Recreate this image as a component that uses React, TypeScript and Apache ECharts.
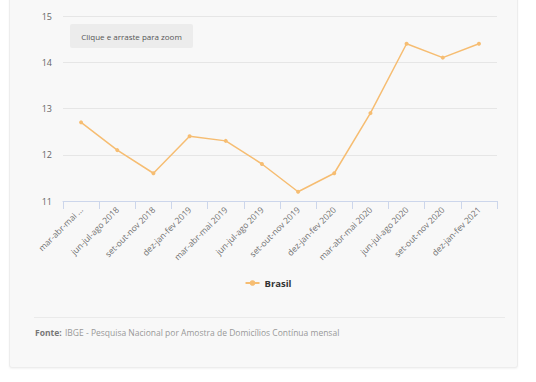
import React, { useEffect, useRef } from "react";
import * as echarts from "echarts";

const categories = [
  "mar-abr-mai 2018",
  "jun-jul-ago 2018",
  "set-out-nov 2018",
  "dez-jan-fev 2019",
  "mar-abr-mai 2019",
  "jun-jul-ago 2019",
  "set-out-nov 2019",
  "dez-jan-fev 2020",
  "mar-abr-mai 2020",
  "jun-jul-ago 2020",
  "set-out-nov 2020",
  "dez-jan-fev 2021",
];
const tickLabels = [
  "mar-abr-mai ...",
  "jun-jul-ago 2018",
  "set-out-nov 2018",
  "dez-jan-fev 2019",
  "mar-abr-mai 2019",
  "jun-jul-ago 2019",
  "set-out-nov 2019",
  "dez-jan-fev 2020",
  "mar-abr-mai 2020",
  "jun-jul-ago 2020",
  "set-out-nov 2020",
  "dez-jan-fev 2021",
];
const brasil = [12.7, 12.1, 11.6, 12.4, 12.3, 11.8, 11.2, 11.6, 12.9, 14.4, 14.1, 14.4];
const seriesName = "Brasil";
const zoomText = "Clique e arraste para zoom";
const sourceLabel = "Fonte:";
const sourceText = "IBGE - Pesquisa Nacional por Amostra de Domicílios Contínua mensal";

const FONT = "'Open Sans', 'Noto Sans', sans-serif";

export default function App() {
  const ref = useRef<HTMLDivElement>(null);
  useEffect(() => {
    if (!ref.current) return;
    const chart = echarts.init(ref.current, undefined, { renderer: "svg" });
    chart.setOption({
      animation: false,
      backgroundColor: "transparent",
      textStyle: { fontFamily: FONT },
      grid: { left: 63, right: 39, top: 16, bottom: 181, containLabel: false },
      xAxis: {
        type: "category",
        data: categories,
        boundaryGap: true,
        axisLine: { lineStyle: { color: "#ccd6eb", width: 1 } },
        axisTick: { show: true, length: 8, lineStyle: { color: "#ccd6eb" } },
        axisLabel: {
          rotate: 45,
          fontSize: 8.5,
          color: "#707070",
          fontFamily: FONT,
          margin: 7,
          interval: 0,
          formatter: (_v: string, i: number) => tickLabels[i],
        },
      },
      yAxis: {
        type: "value",
        min: 11,
        max: 15,
        interval: 1,
        axisLine: { show: false },
        axisTick: { show: false },
        splitLine: { lineStyle: { color: "#e6e6e6", width: 1 } },
        axisLabel: { fontSize: 9, color: "#666666", fontFamily: FONT, margin: 11 },
      },
      legend: {
        data: [seriesName],
        top: 273,
        left: "center",
        itemWidth: 14,
        itemHeight: 7,
        itemGap: 5,
        textStyle: { fontSize: 9.5, fontWeight: "bold", color: "#333333", fontFamily: FONT },
      },
      series: [
        {
          name: seriesName,
          type: "line",
          data: brasil,
          symbol: "circle",
          symbolSize: 4,
          lineStyle: { color: "#f6bd72", width: 1.5 },
          itemStyle: { color: "#f6bd72" },
        },
      ],
      graphic: [
        {
          type: "rect",
          left: 70,
          top: 24,
          shape: { width: 123, height: 24, r: 2 },
          style: { fill: "#ececec" },
        },
        {
          type: "text",
          x: 131.5,
          y: 36,
          style: {
            text: zoomText,
            fill: "#555555",
            fontSize: 8,
            fontFamily: FONT,
            align: "center",
            verticalAlign: "middle",
          },
        },
        {
          type: "line",
          shape: { x1: 34, y1: 317.5, x2: 505, y2: 317.5 },
          style: { stroke: "#eaeaea", lineWidth: 1 },
        },
        {
          type: "text",
          x: 35,
          y: 332,
          style: {
            text: "{b|" + sourceLabel + "} {t|" + sourceText + "}",
            verticalAlign: "middle",
            rich: {
              b: { fontSize: 8.5, fontWeight: "bold", fill: "#777777", fontFamily: FONT },
              t: { fontSize: 8.5, fill: "#999999", fontFamily: FONT },
            },
          },
        },
      ],
    });
    return () => chart.dispose();
  }, []);
  return (
    <div style={{ position: "absolute", left: 0, top: 0, width: 536, height: 382, background: "#ffffff" }}>
      <div
        style={{
          position: "absolute",
          left: 9,
          top: -4,
          width: 509,
          height: 372,
          background: "#f8f8f8",
          border: "1px solid #ededed",
          borderRadius: 3,
          boxSizing: "border-box",
          boxShadow: "0 1px 2px rgba(0,0,0,0.05)",
        }}
      />
      <div ref={ref} style={{ position: "absolute", left: 0, top: 0, width: 536, height: 382 }} />
    </div>
  );
}
